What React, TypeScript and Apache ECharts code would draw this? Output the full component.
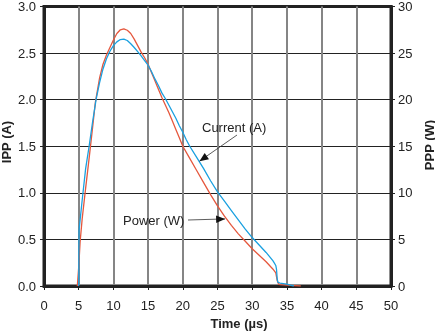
import React, { useEffect, useRef } from "react";
import * as echarts from "echarts";

// Time (µs) and current (A)
const currentTime = [5.0, 5.05, 5.5, 6.0, 6.5, 7.0, 7.5, 8.0, 8.5, 9.0, 9.5, 10.0, 10.5, 11.0, 11.5, 12.0, 12.5, 13.0, 13.5, 14.0, 14.5, 15.0, 15.5, 16.0, 16.5, 17.0, 17.5, 18.0, 18.5, 19.0, 19.5, 20.0, 20.5, 21.0, 22.0, 23.0, 24.0, 25.0, 26.0, 27.0, 28.0, 29.0, 30.0, 31.0, 32.0, 33.0, 33.4, 33.5, 33.6, 33.7, 34.0, 35.0, 35.5, 36.0];
const currentA = [0, 0.6, 0.92, 1.26, 1.5, 1.76, 2.0, 2.18, 2.33, 2.44, 2.52, 2.58, 2.62, 2.645, 2.65, 2.635, 2.6, 2.56, 2.515, 2.47, 2.42, 2.37, 2.3, 2.22, 2.15, 2.07, 2.01, 1.94, 1.87, 1.8, 1.72, 1.65, 1.57, 1.5, 1.38, 1.26, 1.13, 1.01, 0.91, 0.81, 0.71, 0.61, 0.52, 0.44, 0.36, 0.27, 0.22, 0.18, 0.08, 0.04, 0.03, 0.02, 0.01, 0];

// Time (µs) and power (W)
const powerTime = [4.8, 5.0, 5.2, 5.5, 6.0, 6.5, 7.0, 7.4, 8.0, 8.5, 9.0, 9.5, 10.0, 10.5, 11.0, 11.5, 12.0, 12.5, 13.0, 13.5, 14.0, 14.5, 15.0, 15.5, 16.0, 16.5, 17.0, 17.5, 18.0, 18.5, 19.0, 19.5, 20.0, 21.0, 22.0, 23.0, 24.0, 25.0, 26.0, 27.0, 28.0, 29.0, 30.0, 31.0, 32.0, 33.0, 33.4, 33.6, 33.8, 34.0, 35.0, 36.0, 37.0];
const powerW = [0, 2, 4.7, 7.2, 10.5, 13.7, 17.0, 19.7, 22.3, 23.8, 24.8, 25.6, 26.4, 27.1, 27.5, 27.6, 27.45, 27.1, 26.5, 25.8, 25.1, 24.5, 23.8, 22.9, 22.0, 21.1, 20.2, 19.4, 18.6, 17.7, 16.8, 15.9, 15.0, 13.7, 12.4, 11.1, 9.8, 8.6, 7.5, 6.5, 5.6, 4.8, 4.0, 3.3, 2.6, 1.8, 1.4, 0.6, 0.2, 0.15, 0.1, 0.05, 0];

const xLabel = "Time (µs)";
const leftLabel = "IPP (A)";
const rightLabel = "PPP (W)";
const currentLabel = "Current (A)";
const powerLabel = "Power (W)";

const FONT = "Liberation Sans, Arial, Helvetica, sans-serif";

function arrowHead(tip: number[], from: number[], len = 9, half = 3.8) {
  const dx = tip[0] - from[0];
  const dy = tip[1] - from[1];
  const d = Math.hypot(dx, dy);
  const ux = dx / d, uy = dy / d;
  const bx = tip[0] - ux * len, by = tip[1] - uy * len;
  return [tip, [bx - uy * half, by + ux * half], [bx + uy * half, by - ux * half]];
}

export default function App() {
  const ref = useRef<HTMLDivElement>(null);
  useEffect(() => {
    if (!ref.current) return;
    const chart = echarts.init(ref.current, undefined, { renderer: "svg" });
    const axisText = { color: "#222", fontSize: 13, fontFamily: FONT };
    chart.setOption({
      animation: false,
      grid: { left: 44, right: 44, top: 5, bottom: 48, show: true, borderColor: "#222", borderWidth: 3, backgroundColor: "transparent" },
      xAxis: {
        type: "value", min: 0, max: 50, interval: 5,
        axisLine: { show: true, lineStyle: { color: "#222", width: 3 } },
        axisTick: { show: true, length: 4, lineStyle: { color: "#222", width: 1 } },
        axisLabel: { ...axisText, margin: 13 },
        splitLine: { show: true, lineStyle: { color: "#858585", width: 2 } },
      },
      yAxis: [
        {
          type: "value", min: 0, max: 3, interval: 0.5,
          axisLine: { show: true, lineStyle: { color: "#222", width: 3 } },
          axisTick: { show: true, length: 4, lineStyle: { color: "#222", width: 1 } },
          axisLabel: { ...axisText, margin: 8, formatter: (v: number) => v.toFixed(1) },
          splitLine: { show: true, lineStyle: { color: "#222", width: 1 } },
        },
        {
          type: "value", min: 0, max: 30, interval: 5, position: "right",
          axisLine: { show: true, lineStyle: { color: "#222", width: 3 } },
          axisTick: { show: true, length: 4, lineStyle: { color: "#222", width: 1 } },
          axisLabel: { ...axisText, margin: 7 },
          splitLine: { show: false },
        },
      ],
      series: [
        {
          type: "line", name: "Power", yAxisIndex: 1, showSymbol: false, smooth: false,
          data: powerTime.map((t, i) => [t, powerW[i]]),
          lineStyle: { color: "#e5583e", width: 1.3 },
          z: 3,
        },
        {
          type: "line", name: "Current", yAxisIndex: 0, showSymbol: false, smooth: false,
          data: currentTime.map((t, i) => [t, currentA[i]]),
          lineStyle: { color: "#1aa0e0", width: 1.3 },
          z: 4,
        },
      ],
    });

    const cTip = chart.convertToPixel({ gridIndex: 0 }, [22.4, 1.34]) as number[];
    const pTip = chart.convertToPixel({ gridIndex: 0 }, [26.1, 0.72]) as number[];
    const cFrom = [237, 135];
    const pFrom = [188, 220];

    chart.setOption({
      graphic: [
        { type: "text", style: { text: xLabel, x: 239, y: 323, align: "center", verticalAlign: "middle", font: `bold 13px ${FONT}`, fill: "#222" } },
        { type: "text", x: 6, y: 142, rotation: Math.PI / 2, style: { text: leftLabel, align: "center", verticalAlign: "middle", font: `bold 13px ${FONT}`, fill: "#222" } },
        { type: "text", x: 429, y: 145, rotation: Math.PI / 2, style: { text: rightLabel, align: "center", verticalAlign: "middle", font: `bold 13px ${FONT}`, fill: "#222" } },
        { type: "text", x: 202, y: 127, style: { text: currentLabel, align: "left", verticalAlign: "middle", font: `13px ${FONT}`, fill: "#222" }, z: 10 },
        { type: "text", x: 123, y: 220, style: { text: powerLabel, align: "left", verticalAlign: "middle", font: `13px ${FONT}`, fill: "#222" }, z: 10 },
        { type: "line", shape: { x1: cFrom[0], y1: cFrom[1], x2: cTip[0], y2: cTip[1] }, style: { stroke: "#333", lineWidth: 0.8 }, z: 10 },
        { type: "polygon", shape: { points: arrowHead(cTip, cFrom) }, style: { fill: "#111" }, z: 10 },
        { type: "line", shape: { x1: pFrom[0], y1: pFrom[1], x2: pTip[0], y2: pTip[1] }, style: { stroke: "#333", lineWidth: 0.8 }, z: 10 },
        { type: "polygon", shape: { points: arrowHead(pTip, pFrom) }, style: { fill: "#111" }, z: 10 },
      ],
    });
    return () => chart.dispose();
  }, []);
  return <div ref={ref} style={{ position: "fixed", left: 0, top: 0, width: 435, height: 334 }} />;
}
